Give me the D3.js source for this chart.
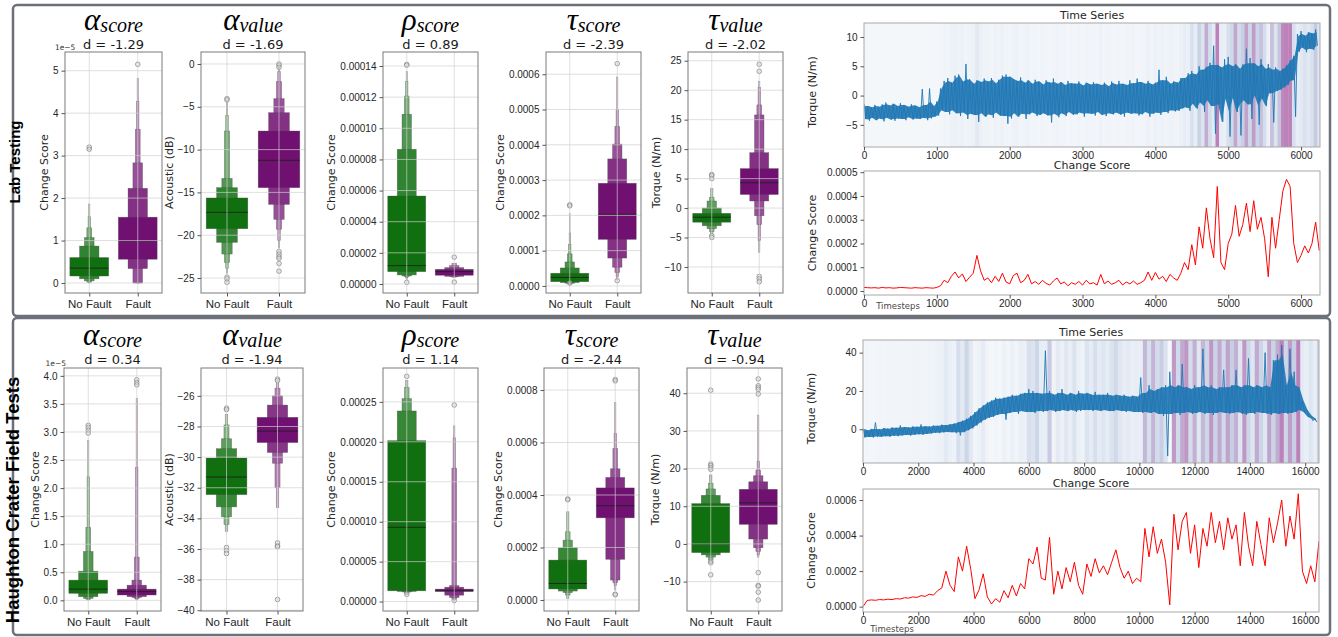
<!DOCTYPE html>
<html>
<head>
<meta charset="utf-8">
<style>
body { margin: 0; background: #fff; }
svg { font-family: "DejaVu Sans", sans-serif; }
.tick text { fill: #262626; }
.tick line { stroke: #555; }
</style>
</head>
<body>
<script src="https://cdn.jsdelivr.net/npm/d3@7"></script>
<script>
// ---------------------------- DATA ----------------------------
var categories = ["No Fault", "Fault"];
var rowNames = ["Lab Testing", "Haughton Crater Field Tests"];
var symbols = ["α", "α", "ρ", "τ", "τ"];
var subs = ["score", "value", "score", "score", "value"];
var yLabels = ["Change Score", "Acoustic (dB)", "Change Score", "Change Score", "Torque (N/m)"];
var labEffect = [-1.29, -1.69, 0.89, -2.39, -2.02];
var fieldEffect = [0.34, -1.94, 1.14, -2.44, -0.94];
var units = [1e-5, 1, 1e-5, 1e-4, 1];
var offsets = ["1e\u22125", "", "", "", ""];

// axis limits and ticks (in the units above)
var labDomains = [[-0.235, 5.44], [-26.75, 1.4], [-0.58, 14.9], [-0.2, 6.63], [-14.41, 26.48]];
var fieldDomains = [[-0.19, 4.14], [-40.05, -24.18], [-1.18, 29.24], [-0.42, 8.84], [-17.8, 46.7]];
var labTicks = [[0, 1, 2, 3, 4, 5], [-25, -20, -15, -10, -5, 0], [0, 2, 4, 6, 8, 10, 12, 14], [0, 1, 2, 3, 4, 5, 6], [-10, -5, 0, 5, 10, 15, 20, 25]];
var fieldTicks = [[0, 0.5, 1, 1.5, 2, 2.5, 3, 3.5, 4], [-40, -38, -36, -34, -32, -30, -28, -26], [0, 5, 10, 15, 20, 25], [0, 2, 4, 6, 8], [-10, 0, 10, 20, 30, 40]];
var labFormats = ["d", "d", ".5f", ".4f", "d"];
var fieldFormats = [".1f", "d", ".5f", ".4f", "d"];

// boxen levels, innermost first, [low, high]
var labAScoreNF = [[0.165, 0.60], [0.10, 0.87], [0.05, 1.07], [0.02, 1.30], [0.01, 1.56], [0.0, 1.86]];
var labAScoreF = [[0.56, 1.55], [0.34, 2.23], [0.0, 2.83], [0.0, 3.62], [0.0, 4.27], [0.0, 4.82]];
var labAValueNF = [[-19.24, -15.65], [-20.83, -14.45], [-22.2, -13.36], [-23.17, -7.83], [-23.87, -6.04], [-24.45, -4.4]];
var labAValueF = [[-14.45, -7.83], [-16.4, -5.69], [-18.15, -4.05], [-19.3, -2.06], [-20.6, -0.9], [-21.5, -0.3]];
var labRScoreNF = [[0.79, 5.65], [0.58, 8.65], [0.51, 10.9], [0.47, 12.07], [0.4, 13.0], [0.3, 13.64]];
var labRScoreF = [[0.56, 0.94], [0.49, 1.05], [0.47, 1.18], [0.43, 1.33]];
var labTScoreNF = [[0.12, 0.36], [0.095, 0.51], [0.075, 0.68], [0.06, 0.91], [0.05, 1.18], [0.03, 1.5], [0.02, 2.05]];
var labTScoreF = [[1.32, 2.91], [0.79, 3.6], [0.53, 4.02], [0.38, 4.52], [0.27, 5.0], [0.17, 5.92]];
var labTValueNF = [[-2.4, -0.9], [-3.0, 0.0], [-3.5, 1.2], [-4.0, 1.8], [-4.4, 3.3]];
var labTValueF = [[2.3, 6.7], [1.2, 9.4], [-1.3, 15.8], [-2.8, 17.5], [-5.5, 20.5], [-7.5, 21.5]];

var fieldAScoreNF = [[0.125, 0.36], [0.065, 0.52], [0.035, 0.87], [0.02, 1.3], [0.01, 2.2], [0.005, 2.85]];
var fieldAScoreF = [[0.095, 0.2], [0.065, 0.27], [0.05, 0.36], [0.03, 0.77], [0.02, 2.37], [0.01, 3.6]];
var fieldAValueNF = [[-32.45, -30.06], [-33.25, -29.45], [-33.9, -28.8], [-34.4, -27.9], [-34.85, -27.2]];
var fieldAValueF = [[-29.05, -27.4], [-29.7, -26.6], [-30.4, -26.0], [-32.0, -25.5], [-33.3, -25.2]];
var fieldRScoreNF = [[1.35, 20.14], [1.27, 23.86], [1.2, 25.4], [1.05, 26.8], [0.85, 27.7]];
var fieldRScoreF = [[1.27, 1.56], [0.8, 1.8], [0.5, 2.0], [0.3, 16.7], [0.2, 20.5], [0.15, 22.0]];
var fieldTScoreNF = [[0.42, 1.52], [0.34, 1.99], [0.28, 2.28], [0.19, 2.6], [0.06, 3.36]];
var fieldTScoreF = [[3.13, 4.27], [1.55, 4.67], [0.76, 5.0], [0.66, 5.77], [0.55, 6.34], [0.38, 7.52]];
var fieldTValueNF = [[-2.3, 10.7], [-2.9, 12.9], [-3.5, 14.6], [-4.2, 16.1], [-5.1, 18.3]];
var fieldTValueF = [[5.2, 14.5], [1.3, 16.5], [-1.0, 18.1], [-2.0, 19.6], [-2.9, 21.9], [-3.5, 34.2]];

var labMedians = [[0.35, 1.0], [-17.33, -11.25], [1.18, 0.79], [0.24, 2.03], [-1.55, 4.3]];
var fieldMedians = [[0.2, 0.155], [-31.3, -28.3], [9.3, 1.35], [0.63, 3.59], [-0.1, 10.9]];

var labOutliers = [
  [[3.2, 3.15], [5.15]],
  [[-4.05, -4.2, -24.9, -25.1, -25.5], [0, -0.15, -0.4, -21.9, -22.2, -22.5, -22.7, -23.3, -24.2]],
  [[14.1, 14.05, 0.1], [1.72, 0.12]],
  [[2.3, 2.27, 0.08], [6.3, 0.15]],
  [[5.7, 5.5, 5.0, -4.7, -5.0], [24.4, 23.2, -11.6, -12.0, -12.5]]
];
var fieldOutliers = [
  [[3.12, 3.08, 3.03, 2.98], [3.93, 3.88, 3.84]],
  [[-26.8, -26.9, -35.9, -36.1, -36.3], [-24.9, -25.0, -35.6, -35.8, -35.85, -39.3]],
  [[28.2, 0.9], [24.6, 0.12]],
  [[3.85, 3.82], [8.4, 8.35, 0.22, 0.2]],
  [[40.8, 21.2, 20.8, 20.3, 19.8, -4.6, -5.0, -8.2], [43.8, 42, 41.5, 41, 39.8, -7.6, -11, -11.2, -12.8, -14.9]]
];

// time series: per bin high / low of torque, change score per bin (x1e-4)
var labStep = 50;
var labTsHi = [-1.4,-1.8,-2.0,-1.6,-1.9,-1.5,-1.2,-1.7,-1.4,-1.8,-1.3,-1.6,-1.9,-1.5,-1.7,-2.0,1.1,-1.6,1.2,-1.8,
  -1.0,1.2,
  2.5,3.0,2.2,3.4, 3.6,2.4,5.4,2.8, 2.0,2.6,2.3,2.9, 2.4,3.0,2.1,2.7, 3.4,3.6,3.2,2.8, 2.5,3.1,2.2,2.6,
  2.0,2.7,2.4,1.9, 2.6,2.2,2.9,2.0, 2.3,1.8,2.5,2.1, 2.0,2.4,1.7,2.2, 1.9,2.3,2.0,1.8, 2.2,1.6,2.4,1.9,
  2.5,2.0,1.8,2.6, 2.1,2.9,2.3,2.0, 2.5,1.9,2.2,4.4, 2.6,3.2,2.0,2.4, 2.2,3.0,
  3.0,3.8,4.2,3.6, 5.0,4.4,4.9,5.6, 8.5,5.2,4.8,6.2, 6.6,5.0,5.4,4.6, 5.3,8.0,6.4,5.5, 5.0,6.2,4.6,5.4,
  4.4,4.8,4.2,4.6, 5.2,6.0,
  6.8,10.5,11.0,10.2,10.8,10.6,11.3];
var labTsLo = [-4.0,-4.3,-3.8,-4.2,-3.9,-4.4,-3.8,-4.1,-4.3,-3.9,-4.0,-4.2,-3.7,-4.1,-3.9,-4.0,-3.8,-4.2,-3.9,-3.6,
  -3.4,-2.5,
  -2.8,-3.2,-2.5,-3.0, -3.5,-2.9,-4.0,-3.1, -3.3,-4.5,-3.0,-3.6, -3.2,-3.8,-2.9,-3.4, -3.5,-4.8,-3.9,-3.0,
  -3.6,-3.1,-4.0,-3.2, -2.9,-3.5,-3.3,-3.0, -3.4,-4.6,-3.1,-3.7, -3.0,-3.5,-2.8,-3.3, -3.2,-2.9,-3.6,-3.0,
  -3.1,-3.4,-2.8,-3.3, -3.5,-3.0,-3.2,-2.9, -3.3,-3.6,-2.9,-3.1, -3.0,-3.4,-3.2,-2.8, -3.6,-3.1,-2.9,-3.3,
  -2.8,-3.0,-2.5,-2.7, -2.6,-2.2,
  -2.0,-2.6,-1.4,-2.2, -1.2,-2.8,-0.8,-1.8, -6.5,-1.5,-4.5,-0.6, -7.0,-0.4,-2.8,-6.8, -0.8,-1.5,-4.0,0.0,
  -5.0,-0.5,-1.8,0.4, -4.6,0.8,1.0,1.4, 1.8,2.6,
  -3.6,7.5,8.2,7.4,8.0,7.8,8.5];
var labScore = [0.15,0.14,0.13,0.14,0.12,0.15,0.13,0.14,0.12,0.13,0.15,0.14,0.13,0.12,0.14,0.13,0.12,0.14,0.13,0.12,
  0.15,0.22,0.45,0.35, 0.62,0.80,0.55,0.72,0.40,0.58, 0.75,1.50,0.85,0.45, 0.55,0.35,0.62,0.40,0.75,0.38,
  0.30,0.65,0.75,0.35, 0.45,0.70,0.30,0.40, 0.28,0.45,0.32,0.25,0.42,0.55,0.30,0.38,
  0.22,0.35,0.28,0.40,0.25,0.45,0.30,0.35, 0.25,0.70,0.30,0.42,
  0.28,0.35,0.45,0.25,0.38,0.30,0.42,0.28,0.35,0.45, 0.80,0.45,0.78,0.50, 0.62,0.40,0.70,0.55,0.45,0.75,
  1.20,0.90,1.95,1.10, 2.70,1.80,3.50,2.20, 1.40,4.40,1.20,0.90, 2.00,2.40,3.60,2.30, 2.80,3.70,2.50,3.80,
  2.60,3.10,2.20,0.60, 3.10,1.80,3.00,4.20, 4.70,4.40,2.00,1.20, 1.50,1.90,1.60,2.00,2.90,1.70];

var fieldStep = 150;
var fieldTsHi = [0.5,-0.5,0.2,3.5,0.0,0.6,0.3,1.0,0.8,2.0,1.2,0.9,1.5,1.3,2.5,1.6,1.4,2.0,1.8,2.4,2.2,2.6,
  3.0,3.8,4.5,5.5, 7.0,9.0,11.0,12.5,14.0,15.0,16.5,16.0,
  16.5,17,18,17.5,18.5,19,21,20,19,18.5, 41,20,18,19,21,18,19,18,20,18.5, 19,18,19.5,18,18,19,17.5,18,17.5,18, 17,17.5,17,
  27,19,23,20,21,22,23,
  30,22,23,34,22,21,23,22,42,22,23,21,22,31,22,23,31,22,23,37,22,23,22,40,22,36,39,44,23,42,30,22,
  15,10,7,5.5];
var fieldTsLo = [-4.2,-4.0,-4.3,-3.8,-4.0,-3.6,-3.9,-3.4,-3.6,-3.2,-3.0,-3.3,-2.8,-2.6,-2.9,-2.4,-2.2,-1.8,-2.0,-1.6,-1.4,-1.5,
  -2.0,-3.2,-1.5,-0.5, 0.5,2.0,3.5,5.0,6.0,6.5,7.5,8.0,
  5.0,8.5,9,8,9.5,9,9,8.5,9.5,9, 9.5,10,9,9.5,10,9.5,10,9,9.5,10, 10,9.5,10,9.5,10,9.5,9.5,10,9.5,9, 9.5,9,9,
  8.5,9,8.5,9,8,7,-14,
  8,8.5,7.5,8.5,9,8,8.5,9,8,8.5,7.5,8.5,9,8.5,8,8.5,9,8,7.5,8.5,8,9,8.5,8,7.5,8.5,8,8.5,8,8.5,9,10,
  9,6.5,4.5,3.8];
var fieldScore = [0.00,0.35,0.38,0.36,0.40,0.38,0.42,0.40,0.45,0.43,
  0.50,0.48,0.55,0.52,0.62,0.58,0.70,0.65,0.90,1.05,
  2.00,1.20,0.85,2.80,2.00,3.40,2.10,0.45,0.95,1.85,
  0.55,0.15,0.45,0.25,0.90,0.50,1.20,0.60,1.30,1.00,
  2.70,2.40,3.35,1.60,1.50,3.90,0.70,2.00,1.00,2.20,
  1.40,2.50,1.20,0.70,2.40,1.70,2.70,1.90,2.30,1.80,
  2.50,3.20,2.20,1.60,2.00,1.30,1.60,1.40,4.40,2.80,
  4.50,3.00,3.80,2.50,0.10,5.20,3.20,4.80,5.30,3.00,
  4.60,2.20,4.40,3.40,5.30,3.60,4.80,3.20,5.00,3.80,
  4.60,2.30,5.30,3.40,2.30,4.80,3.50,2.30,5.00,3.60,
  4.70,6.00,3.40,5.10,3.80,6.35,2.00,1.30,2.30,1.40,
  3.70];

var labTimeTicks = [0, 1000, 2000, 3000, 4000, 5000, 6000];
var fieldTimeTicks = [0, 2000, 4000, 6000, 8000, 10000, 12000, 14000, 16000];
var labTsTicks = [-5, 0, 5, 10];
var fieldTsTicks = [0, 20, 40];
var labScoreTicks = [0, 1, 2, 3, 4, 5];
var fieldScoreTicks = [0, 2, 4, 6];

// ---------------------------- SVG ----------------------------
var width = 1338, height = 637;
var svg = d3.select("body").append("svg")
  .attr("width", width).attr("height", height);

var boxColors = ["#107010", "#701070"];
var boxLight = ["#e2eee2", "#efdfef"];
var minus = function(s) { return s.replace("-", "\u2212"); };

// panel frames
svg.append("rect").attr("x", 13).attr("y", 5).attr("width", 1317).attr("height", 311)
  .attr("rx", 4).attr("fill", "none").attr("stroke", "#6c7079").attr("stroke-width", 2.5);
svg.append("rect").attr("x", 13).attr("y", 318).attr("width", 1317).attr("height", 317)
  .attr("rx", 4).attr("fill", "none").attr("stroke", "#6c7079").attr("stroke-width", 2.5);

// row labels
[[162, 15, 20], [500, 18.5, 19]].forEach(function(r, i) {
  svg.append("text")
    .attr("transform", "translate(" + r[2] + "," + r[0] + ") rotate(-90)")
    .attr("text-anchor", "middle")
    .style("font-family", "'Liberation Sans', Arial, sans-serif")
    .style("font-weight", "bold")
    .style("font-size", r[1] + "px")
    .text(rowNames[i]);
});

//---------------------------- BOXEN PANELS ----------------------------
function boxenPanel(p) {
  var g = svg.append("g");
  var x = d3.scalePoint().domain(categories).range([p.left, p.right]).padding(0.5);
  var y = d3.scaleLinear().domain(p.domain).range([p.bottom, p.top]);
  var bw = x.step() * 0.8;

  g.append("rect").attr("x", p.left).attr("y", p.top)
    .attr("width", p.right - p.left).attr("height", p.bottom - p.top).attr("fill", "#fff");

  p.groups.forEach(function(levels, gi) {
    var cx = x(categories[gi]);
    var n = levels.length;
    var lv = levels.map(function(d, i) { return { lo: d[0], hi: d[1], i: i }; }).reverse();
    g.selectAll(null).data(lv).enter().append("rect")
      .attr("x", function(d) { return cx - bw * Math.pow(0.5, d.i) / 2; })
      .attr("width", function(d) { return bw * Math.pow(0.5, d.i); })
      .attr("y", function(d) { return y(d.hi); })
      .attr("height", function(d) { return Math.max(0.8, y(d.lo) - y(d.hi)); })
      .attr("fill", function(d) { return d3.interpolateRgb(boxColors[gi], boxLight[gi])(d.i / (n + 0.5)); })
      .attr("stroke", "#4a4a4a").attr("stroke-width", 0.6).attr("stroke-opacity", 0.55);
    g.append("line")
      .attr("x1", cx - bw / 2).attr("x2", cx + bw / 2)
      .attr("y1", y(p.medians[gi])).attr("y2", y(p.medians[gi]))
      .attr("stroke", "#1e1e1e").attr("stroke-opacity", 0.85).attr("stroke-width", 1);
    g.selectAll(null).data(p.outliers[gi]).enter().append("circle")
      .attr("cx", cx).attr("cy", function(d) { return y(d); }).attr("r", 2.3)
      .attr("fill", "#dcdcdc").attr("fill-opacity", 0.5)
      .attr("stroke", "#8a8a8a").attr("stroke-width", 0.8);
  });

  // grid on top
  g.selectAll(null).data(p.ticks).enter().append("line")
    .attr("x1", p.left).attr("x2", p.right)
    .attr("y1", function(d) { return y(d); }).attr("y2", function(d) { return y(d); })
    .attr("stroke", "#cfcfcf").attr("stroke-opacity", 0.75).attr("stroke-width", 0.9);
  g.selectAll(null).data(categories).enter().append("line")
    .attr("x1", function(d) { return x(d); }).attr("x2", function(d) { return x(d); })
    .attr("y1", p.top).attr("y2", p.bottom)
    .attr("stroke", "#cfcfcf").attr("stroke-opacity", 0.75).attr("stroke-width", 0.9);

  g.append("rect").attr("x", p.left).attr("y", p.top)
    .attr("width", p.right - p.left).attr("height", p.bottom - p.top)
    .attr("fill", "none").attr("stroke", "#7a7a7a").attr("stroke-width", 1);

  var f = d3.format(p.fmt);
  var ya = g.append("g").attr("transform", "translate(" + p.left + ",0)")
    .call(d3.axisLeft(y).tickValues(p.ticks).tickSize(3.5).tickPadding(3)
      .tickFormat(function(v) { return minus(f(p.offset ? v : v * p.unit)); }));
  ya.select(".domain").remove();
  ya.selectAll("text").style("font-size", "10px");

  var xa = g.append("g").attr("transform", "translate(0," + p.bottom + ")")
    .call(d3.axisBottom(x).tickSize(3.5).tickPadding(3));
  xa.select(".domain").remove();
  xa.selectAll("text").style("font-size", "11.5px");

  var bb = ya.node().getBBox();
  var labelX = p.left + bb.x;
  g.append("text")
    .attr("transform", "translate(" + (labelX - 5) + "," + ((p.top + p.bottom) / 2) + ") rotate(-90)")
    .attr("text-anchor", "middle").style("font-size", "11px").attr("fill", "#262626")
    .text(p.ylabel);

  if (p.offset) {
    g.append("text").attr("x", labelX + 2).attr("y", p.top - 2)
      .style("font-size", "7.5px").attr("fill", "#333").text(p.offset);
  }

  var cxm = (p.left + p.right) / 2;
  var t = g.append("text").attr("x", cxm).attr("y", p.titleY).attr("text-anchor", "middle")
    .style("font-family", "'Liberation Serif', 'DejaVu Serif', serif").style("font-style", "italic");
  t.append("tspan").style("font-size", "31px").text(p.symbol);
  t.append("tspan").attr("dy", 2).style("font-size", "20px").text(p.sub);
  g.append("text").attr("x", cxm).attr("y", p.dY).attr("text-anchor", "middle")
    .style("font-size", "13px").attr("fill", "#1a1a1a")
    .text("d = " + p.effect.toFixed(2));
}

var labCols = [[65, 162], [201, 305], [383, 478], [546, 641], [688, 783]];
var fieldCols = [[64, 161], [201, 303], [383, 478], [544, 639], [687, 782]];
var labGroups = [[labAScoreNF, labAScoreF], [labAValueNF, labAValueF], [labRScoreNF, labRScoreF], [labTScoreNF, labTScoreF], [labTValueNF, labTValueF]];
var fieldGroups = [[fieldAScoreNF, fieldAScoreF], [fieldAValueNF, fieldAValueF], [fieldRScoreNF, fieldRScoreF], [fieldTScoreNF, fieldTScoreF], [fieldTValueNF, fieldTValueF]];

for (var i = 0; i < 5; i++) {
  boxenPanel({
    left: labCols[i][0], right: labCols[i][1], top: 52, bottom: 293,
    domain: labDomains[i], ticks: labTicks[i], fmt: labFormats[i], unit: units[i], offset: offsets[i],
    groups: labGroups[i], medians: labMedians[i], outliers: labOutliers[i],
    ylabel: yLabels[i], symbol: symbols[i], sub: subs[i], effect: labEffect[i], titleY: 30, dY: 49
  });
  boxenPanel({
    left: fieldCols[i][0], right: fieldCols[i][1], top: 368, bottom: 611,
    domain: fieldDomains[i], ticks: fieldTicks[i], fmt: fieldFormats[i], unit: units[i], offset: offsets[i],
    groups: fieldGroups[i], medians: fieldMedians[i], outliers: fieldOutliers[i],
    ylabel: yLabels[i], symbol: symbols[i], sub: subs[i], effect: fieldEffect[i], titleY: 345, dY: 364
  });
}

//---------------------------- TIME SERIES ----------------------------
function rollingMedian(arr, i) {
  return d3.median(arr.slice(Math.max(0, i - 2), i + 3));
}

function seriesPanels(p) {
  var x = d3.scaleLinear().domain(p.xDomain).range([p.left, p.right]);
  var yT = d3.scaleLinear().domain(p.tsDomain).range([p.tsBottom, p.tsTop]);
  var yC = d3.scaleLinear().domain(p.csDomain).range([p.csBottom, p.csTop]);
  var maxS = d3.max(p.score);
  var shade = d3.scaleLinear().domain([0, 0.3, 0.58, 0.92].map(function(k) { return k * maxS; }))
    .range(["#f5f8fb", "#e4ebf4", "#c9d3e6", "#bb82ba"]).clamp(true);

  svg.append("clipPath").attr("id", "clip" + p.id).append("rect")
    .attr("x", p.left).attr("y", p.tsTop).attr("width", p.right - p.left).attr("height", p.tsBottom - p.tsTop);
  svg.append("clipPath").attr("id", "clipc" + p.id).append("rect")
    .attr("x", p.left).attr("y", p.csTop).attr("width", p.right - p.left).attr("height", p.csBottom - p.csTop);

  // torque panel, shaded by change score
  var gT = svg.append("g").attr("clip-path", "url(#clip" + p.id + ")");
  gT.selectAll(null).data(p.score).enter().append("rect")
    .attr("x", function(d, i) { return x(i * p.step - p.step / 2); })
    .attr("width", x(p.step) - x(0) + 0.4)
    .attr("y", p.tsTop).attr("height", p.tsBottom - p.tsTop)
    .attr("fill", function(d) { return shade(d); });

  // dense core of the signal (spikes left to the trace)
  var core = d3.area()
    .x(function(d, i) { return x(i * p.step + p.step / 4); })
    .y0(function(d, i) { return yT(Math.max(p.lo[i], rollingMedian(p.lo, i))); })
    .y1(function(d, i) { return yT(Math.min(d, rollingMedian(p.hi, i))); });
  gT.append("path").attr("d", core(p.hi))
    .attr("fill", "#1f77b4").attr("fill-opacity", 0.9);
  var pts = [];
  p.hi.forEach(function(h, i) {
    pts.push([i * p.step, h]);
    pts.push([i * p.step + p.step / 2, p.lo[i]]);
  });
  gT.append("path")
    .attr("d", d3.line().x(function(d) { return x(d[0]); }).y(function(d) { return yT(d[1]); })(pts))
    .attr("fill", "none").attr("stroke", "#1f77b4").attr("stroke-width", 0.9);

  // change score panel
  var gC = svg.append("g").attr("clip-path", "url(#clipc" + p.id + ")");
  gC.append("path")
    .attr("d", d3.line().x(function(d, i) { return x(i * p.step); }).y(function(d) { return yC(d * 1e-4); })(p.score))
    .attr("fill", "none").attr("stroke", "#ff0000").attr("stroke-width", 1);

  [[p.tsTop, p.tsBottom], [p.csTop, p.csBottom]].forEach(function(b) {
    svg.append("rect").attr("x", p.left).attr("y", b[0])
      .attr("width", p.right - p.left).attr("height", b[1] - b[0])
      .attr("fill", "none").attr("stroke", "#a8a8a8").attr("stroke-width", 1);
    var xa = svg.append("g").attr("transform", "translate(0," + b[1] + ")")
      .call(d3.axisBottom(x).tickValues(p.timeTicks).tickFormat(d3.format("d")).tickSize(3.5).tickPadding(1.5));
    xa.select(".domain").remove();
    xa.selectAll("text").style("font-size", "10px");
  });

  var yaT = svg.append("g").attr("transform", "translate(" + p.left + ",0)")
    .call(d3.axisLeft(yT).tickValues(p.tsTicks).tickSize(3.5).tickPadding(3)
      .tickFormat(function(v) { return minus(d3.format("d")(v)); }));
  yaT.select(".domain").remove();
  yaT.selectAll("text").style("font-size", "10px");
  var yaC = svg.append("g").attr("transform", "translate(" + p.left + ",0)")
    .call(d3.axisLeft(yC).tickValues(p.csTicks.map(function(v) { return v * 1e-4; })).tickSize(3.5).tickPadding(3)
      .tickFormat(d3.format(".4f")));
  yaC.select(".domain").remove();
  yaC.selectAll("text").style("font-size", "10px");

  var cx = (p.left + p.right) / 2;
  svg.append("text").attr("x", cx).attr("y", p.tsTop - 4).attr("text-anchor", "middle")
    .style("font-size", "11px").attr("fill", "#262626").text("Time Series");
  svg.append("text").attr("x", cx).attr("y", p.csTop - 2).attr("text-anchor", "middle")
    .style("font-size", "11px").attr("fill", "#262626").text("Change Score");

  svg.append("text")
    .attr("transform", "translate(" + (p.left - 48) + "," + ((p.tsTop + p.tsBottom) / 2 + 7) + ") rotate(-90)")
    .attr("text-anchor", "middle").style("font-size", "11px").attr("fill", "#262626").text("Torque (N/m)");
  svg.append("text")
    .attr("transform", "translate(" + (p.left - 48) + "," + ((p.csTop + p.csBottom) / 2) + ") rotate(-90)")
    .attr("text-anchor", "middle").style("font-size", "11px").attr("fill", "#262626").text("Change Score");

  svg.append("text").attr("x", p.left + p.stepsDx).attr("y", p.csBottom + p.stepsDy)
    .attr("text-anchor", "middle").style("font-size", "8.5px").attr("fill", "#4a4a4a").text("Timesteps");
}

seriesPanels({
  id: "lab", left: 864, right: 1320, tsTop: 23, tsBottom: 147, csTop: 171, csBottom: 295,
  xDomain: [0, 6260], tsDomain: [-8.78, 12.39], csDomain: [-0.168e-4, 5.05e-4],
  step: labStep, hi: labTsHi, lo: labTsLo, score: labScore,
  timeTicks: labTimeTicks, tsTicks: labTsTicks, csTicks: labScoreTicks, stepsDx: 34, stepsDy: 14
});
seriesPanels({
  id: "field", left: 863, right: 1319, tsTop: 340, tsBottom: 463, csTop: 489, csBottom: 612,
  xDomain: [0, 16500], tsDomain: [-17.6, 46.6], csDomain: [-0.3e-4, 6.62e-4],
  step: fieldStep, hi: fieldTsHi, lo: fieldTsLo, score: fieldScore,
  timeTicks: fieldTimeTicks, tsTicks: fieldTsTicks, csTicks: fieldScoreTicks, stepsDx: 29, stepsDy: 20
});
</script>
</body>
</html>
